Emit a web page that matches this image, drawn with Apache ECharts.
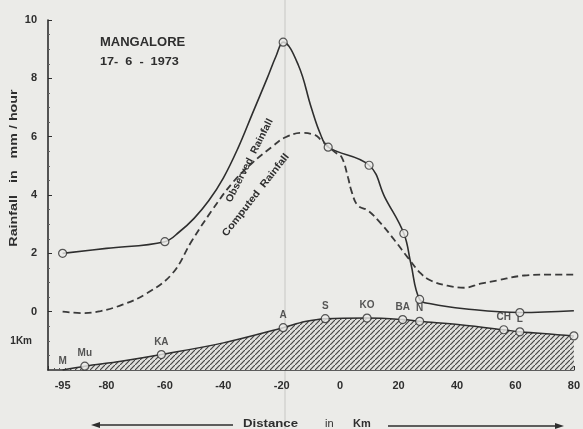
<!DOCTYPE html>
<html><head><meta charset="utf-8">
<script src="https://cdn.jsdelivr.net/npm/echarts@6/dist/echarts.min.js"></script>
<style>html,body{margin:0;padding:0;background:#ebebe8}#c{width:583px;height:429px}</style>
</head><body><div id="c"></div>
<script>
// ---- data ----
const xTickLabels = [-95, -80, -60, -40, -20, 0, 20, 40, 60, 80];
const yTickLabels = [-1, 0, 2, 4, 6, 8, 10];

const observedX = [-95, -80, -60, -55, -50, -45, -40, -35, -30, -25, -22, -19.5, -14.3, -9.9, -6.8, -4.1, 9.9, 15.3, 21.8, 24.2, 27.2, 31, 42.5, 61.5, 80];
const observedY = [2.0, 2.17, 2.4, 2.74, 3.2, 3.8, 4.58, 5.6, 6.8, 8.0, 8.75, 9.24, 8.45, 7.0, 6.1, 5.64, 5.02, 3.92, 2.68, 1.65, 0.42, 0.27, 0.1, -0.03, 0.03];

const observedStationX = [-95, -60, -19.5, -4.1, 9.9, 21.8, 27.2, 61.5];
const observedStationY = [2.0, 2.4, 9.24, 5.64, 5.02, 2.68, 0.42, -0.03];

const computedX = [-95, -88, -82, -74.5, -66.3, -57.5, -50.7, -43.9, -37, -30.3, -23.5, -18.7, -13, -8.5, -6.5, -1.7, 0.5, 2.7, 3.8, 6, 9.5, 14, 18.7, 23.1, 27.6, 31, 36.7, 42.5, 48, 53.7, 63, 70.7, 80];
const computedY = [0, -0.05, 0.02, 0.24, 0.62, 1.3, 2.44, 3.47, 4.4, 5.08, 5.64, 5.98, 6.13, 6.05, 5.88, 5.46, 5.3, 4.6, 4.16, 3.64, 3.47, 3.02, 2.44, 1.86, 1.31, 1.07, 0.89, 0.82, 0.96, 1.07, 1.24, 1.27, 1.27];

const terrainX = [-95, -87.4, -75, -61.2, -40, -19.5, -12, -5.1, 9.2, 21.4, 27.2, 41, 56, 61.5, 80];
const terrainY = [-2.0, -1.87, -1.7, -1.47, -1.07, -0.55, -0.34, -0.24, -0.22, -0.27, -0.33, -0.45, -0.62, -0.69, -0.83];

const stationNames = ['M', 'Mu', 'KA', 'A', 'S', 'KO', 'BA', 'N', 'CH', 'L', ''];
const stationX = [-95, -87.4, -61.2, -19.5, -5.1, 9.2, 21.4, 27.2, 56, 61.5, 80];
const stationH = [-2.0, -1.87, -1.47, -0.55, -0.24, -0.22, -0.27, -0.33, -0.62, -0.69, -0.83];

const titleText = 'MANGALORE';
const dateText = '17-  6  -  1973';
const yAxisTitle = 'Rainfall   in   mm / hour';
const xAxisWords = ['Distance', 'in', 'Km'];
const observedLabel = 'Observed  Rainfall';
const computedLabel = 'Computed  Rainfall';

// ---- rendering ----
const INK = '#2e2e2e';
const PAPER = '#ebebe8';
const FONT = '"Liberation Sans", Arial, sans-serif';

const zip = (a, b) => a.map((v, i) => [v, b[i]]);

const pc = document.createElement('canvas');
pc.width = 5; pc.height = 5;
const g = pc.getContext('2d');
g.fillStyle = '#e0e0dd'; g.fillRect(0, 0, 5, 5);
g.strokeStyle = '#454545'; g.lineWidth = 1.15;
g.beginPath(); g.moveTo(-1, 6); g.lineTo(6, -1); g.stroke();

const chart = echarts.init(document.getElementById('c'), null, {renderer: 'canvas'});

const stationData = stationNames.map((n, i) => {
  const item = {name: n, value: [stationX[i], stationH[i]]};
  if (n === 'M') {
    item.symbolSize = 2;
    item.itemStyle = {color: 'rgba(0,0,0,0)', borderWidth: 0};
    item.label = {show: true, position: 'top', offset: [-6, 0]};
  }
  return item;
});

chart.setOption({
  backgroundColor: PAPER,
  animation: false,
  grid: {left: 48, right: 6, top: 20, bottom: 59, containLabel: false},
  xAxis: {
    type: 'value', min: -100, max: 80, interval: 20,
    axisLine: {show: true, onZero: false, lineStyle: {color: INK, width: 1.6}},
    axisTick: {show: true, inside: true, length: 4, lineStyle: {color: INK}},
    minorTick: {show: true, splitNumber: 10, length: 2, lineStyle: {color: '#555'}},
    splitLine: {show: false},
    axisLabel: {customValues: xTickLabels, color: INK, fontFamily: FONT, fontWeight: 'bold', fontSize: 11, margin: 10},
  },
  yAxis: {
    type: 'value', min: -2, max: 10, interval: 2,
    axisLine: {show: true, onZero: false, lineStyle: {color: INK, width: 1.6}},
    axisTick: {show: true, inside: true, length: 4, customValues: [0, 2, 4, 6, 8, 10], lineStyle: {color: INK}},
    minorTick: {show: true, splitNumber: 4, length: 2, lineStyle: {color: '#666'}},
    splitLine: {show: false},
    axisLabel: {
      customValues: yTickLabels, color: INK, fontFamily: FONT, fontWeight: 'bold', fontSize: 11, margin: 11,
      formatter: v => v === -1 ? '{k|1Km}' : String(v),
      rich: {k: {fontSize: 10, fontWeight: 'bold', fontFamily: FONT, color: INK, padding: [0, 5, 0, 0]}}
    },
  },
  series: [
    {
      type: 'line', name: 'terrain', data: zip(terrainX, terrainY), smooth: 0.35,
      symbol: 'none', lineStyle: {color: INK, width: 1.5},
      areaStyle: {color: {image: pc, repeat: 'repeat'}, origin: 'start', opacity: 1}, z: 2
    },
    {
      type: 'scatter', name: 'stations', data: stationData,
      symbol: 'circle', symbolSize: 8,
      itemStyle: {color: PAPER, borderColor: INK, borderWidth: 1.2},
      labelLayout: {hideOverlap: false},
      label: {show: true, position: 'top', distance: 3, formatter: p => p.name,
        color: INK, fontFamily: FONT, fontWeight: 'bold', fontSize: 10}, z: 5
    },
    {
      type: 'line', name: 'Observed Rainfall', data: zip(observedX, observedY), smooth: 0.4,
      symbol: 'none', lineStyle: {color: INK, width: 1.6}, z: 3
    },
    {
      type: 'scatter', name: 'observed stations', data: zip(observedStationX, observedStationY),
      symbol: 'circle', symbolSize: 8,
      itemStyle: {color: PAPER, borderColor: INK, borderWidth: 1.2}, z: 6
    },
    {
      type: 'line', name: 'Computed Rainfall', data: zip(computedX, computedY), smooth: 0.4,
      symbol: 'none', lineStyle: {color: '#3a3a3a', width: 1.8, type: [7, 4]}, z: 3
    }
  ]
});

function px(x, y) { return chart.convertToPixel({gridIndex: 0}, [x, y]); }
const obsPos = px(-31.0, 5.18);
const cmpPos = px(-28.9, 4.0);
const xTitleY = px(0, -2)[1] + 54;

const graphics = [
  {type: 'rect', shape: {x: 284, y: 0, width: 2, height: 429}, style: {fill: '#d9d9d6'}, z: 0, silent: true},
  {type: 'text', left: 100, top: 36, style: {text: titleText, font: 'bold 13px ' + FONT, fill: INK}},
  {type: 'text', x: 100, y: 56, scaleX: 1.15, style: {text: dateText, font: 'bold 11px ' + FONT, fill: INK}},
  {type: 'text', x: 14, y: 168, rotation: Math.PI / 2, scaleX: 1.3,
    style: {text: yAxisTitle, font: 'bold 11px ' + FONT, fill: INK, align: 'center', verticalAlign: 'middle'}},
  {type: 'text', x: obsPos[0], y: obsPos[1], rotation: 63 * Math.PI / 180, scaleX: 1.05,
    style: {text: observedLabel, font: 'bold 10px ' + FONT, fill: INK, align: 'center', verticalAlign: 'middle'}, z: 10},
  {type: 'text', x: cmpPos[0], y: cmpPos[1], rotation: 52 * Math.PI / 180, scaleX: 1.12,
    style: {text: computedLabel, font: 'bold 10px ' + FONT, fill: INK, align: 'center', verticalAlign: 'middle'}, z: 10},
  {type: 'text', x: 243, y: xTitleY, scaleX: 1.2, style: {text: xAxisWords[0], font: 'bold 11px ' + FONT, fill: INK, verticalAlign: 'middle'}},
  {type: 'text', x: 325, y: xTitleY, style: {text: xAxisWords[1], font: '11px ' + FONT, fill: INK, verticalAlign: 'middle'}},
  {type: 'text', x: 353, y: xTitleY, style: {text: xAxisWords[2], font: 'bold 11px ' + FONT, fill: INK, verticalAlign: 'middle'}},
  {type: 'line', shape: {x1: 98, y1: xTitleY + 1, x2: 233, y2: xTitleY + 1}, style: {stroke: INK, lineWidth: 1.3}},
  {type: 'polygon', shape: {points: [[91, xTitleY + 1], [100, xTitleY - 2], [100, xTitleY + 4]]}, style: {fill: INK}},
  {type: 'line', shape: {x1: 388, y1: xTitleY + 2, x2: 556, y2: xTitleY + 2}, style: {stroke: INK, lineWidth: 1.3}},
  {type: 'polygon', shape: {points: [[564, xTitleY + 2], [555, xTitleY - 1], [555, xTitleY + 5]]}, style: {fill: INK}}
];
chart.setOption({graphic: graphics});
</script>
</body></html>
